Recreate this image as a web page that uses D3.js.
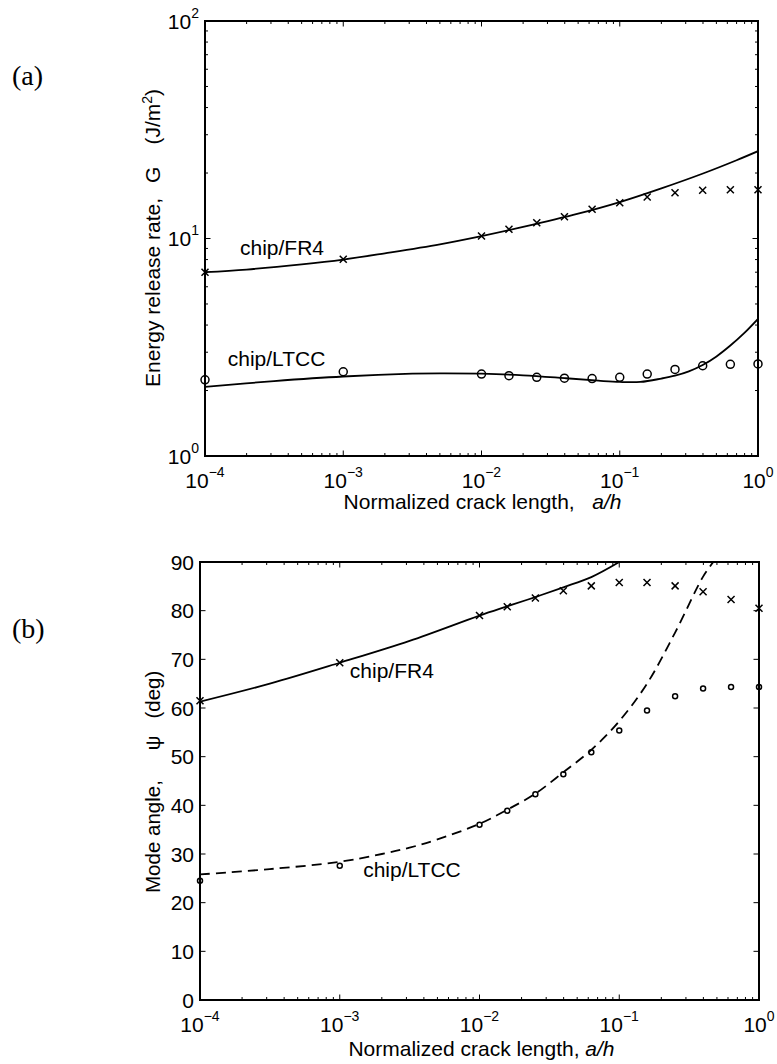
<!DOCTYPE html>
<html>
<head>
<meta charset="utf-8">
<script src="https://cdn.jsdelivr.net/npm/d3@7"></script>
<style>
  html, body { margin: 0; padding: 0; background: #fff; }
  svg { display: block; }
  text { font-family: Arial, "Liberation Sans", Helvetica, sans-serif; fill: #000; white-space: pre; }
</style>
</head>
<body>
<div id="chart"></div>
<script>
// ---------------- DATA ----------------
const xTickExponents = [-4, -3, -2, -1, 0];
const gTickExponents = [0, 1, 2];
const psiTicks = [0, 10, 20, 30, 40, 50, 60, 70, 80, 90];

// symbol (FE) points
const xSym = [1e-4, 1e-3, 0.01, 0.0158, 0.0251, 0.0398, 0.0631, 0.1, 0.158, 0.251, 0.398, 0.631, 1];
const gFR4Sym  = [7.0, 8.03, 10.27, 11.02, 11.82, 12.60, 13.62, 14.61, 15.51, 16.24, 16.66, 16.76, 16.76];
const gLTCCSym = [2.24, 2.44, 2.38, 2.34, 2.30, 2.28, 2.27, 2.30, 2.38, 2.50, 2.60, 2.64, 2.65];
const psiFR4Sym  = [61.5, 69.3, 79.0, 80.8, 82.6, 84.1, 85.1, 85.8, 85.8, 85.1, 83.9, 82.3, 80.5];
const psiLTCCSym = [24.5, 27.6, 36.0, 38.9, 42.3, 46.4, 50.9, 55.4, 59.5, 62.4, 64.0, 64.3, 64.3];

// model curves
const xLineGFR4 = [1e-4, 2e-4, 5e-4, 1e-3, 2e-3, 5e-3, 1e-2, 0.02, 0.05, 0.1, 0.2, 0.4, 0.7, 1];
const gFR4Line  = [7.0, 7.2, 7.6, 8.0, 8.55, 9.4, 10.25, 11.3, 13.0, 14.7, 17.0, 19.9, 22.9, 25.2];
const xLineGLTCC = [1e-4, 3.16e-4, 1e-3, 3.16e-3, 5e-3, 1e-2, 0.02, 0.04, 0.07, 0.1, 0.141, 0.2, 0.251, 0.316, 0.398, 0.501, 0.631, 0.794, 1];
const gLTCCLine  = [2.08, 2.21, 2.32, 2.39, 2.40, 2.39, 2.35, 2.28, 2.22, 2.19, 2.19, 2.27, 2.34, 2.45, 2.62, 2.87, 3.22, 3.67, 4.27];
const xLinePsiFR4 = [1e-4, 3.16e-4, 1e-3, 3.16e-3, 1e-2, 0.0158, 0.0251, 0.0398, 0.0631, 0.1];
const psiFR4Line  = [61.3, 65.0, 69.3, 73.8, 79.0, 80.9, 82.8, 84.8, 86.9, 90.0];
const xLinePsiLTCC = [1e-4, 3.16e-4, 1e-3, 2e-3, 3.16e-3, 5e-3, 1e-2, 0.0158, 0.0251, 0.0398, 0.0631, 0.1, 0.158, 0.251, 0.398, 0.471];
const psiLTCCLine  = [25.8, 26.9, 28.4, 30.0, 31.3, 33.0, 36.2, 39.1, 42.4, 46.8, 51.4, 57.3, 65.0, 75.5, 87.0, 90.0];

// annotation labels (data coordinates)
const labelsA = [
  { text: "chip/FR4", x: 1.79e-4, y: 8.38 },
  { text: "chip/LTCC", x: 1.46e-4, y: 2.60 }
];
const labelsB = [
  { text: "chip/FR4", x: 1.18e-3, y: 66.2 },
  { text: "chip/LTCC", x: 1.47e-3, y: 25.3 }
];

// ---------------- LAYOUT ----------------
const W = 777, H = 1064;
const FS = 21;
const svg = d3.select("#chart").append("svg").attr("width", W).attr("height", H);

const A = { left: 205, right: 758, top: 21, bottom: 456 };
const B = { left: 200, right: 759, top: 562, bottom: 1000 };

const xA = d3.scaleLog().domain([1e-4, 1]).range([A.left, A.right]);
const yA = d3.scaleLog().domain([1, 100]).range([A.bottom, A.top]);
const xB = d3.scaleLog().domain([1e-4, 1]).range([B.left, B.right]);
const yB = d3.scaleLinear().domain([0, 90]).range([B.bottom, B.top]);

function zip(xs, ys) { return xs.map((x, i) => [x, ys[i]]); }

function drawFrame(g, P) {
  g.append("rect").attr("x", P.left).attr("y", P.top)
    .attr("width", P.right - P.left).attr("height", P.bottom - P.top)
    .attr("fill", "none").attr("stroke", "#000").attr("stroke-width", 2);
}

function xTicksLog(g, x, P) {
  const minor = x.ticks();
  const major = xTickExponents.map(e => Math.pow(10, e));
  minor.forEach(v => {
    const isMajor = major.some(m => Math.abs(Math.log10(m) - Math.log10(v)) < 1e-6);
    const len = isMajor ? 5.5 : 3;
    const px = x(v);
    g.append("line").attr("x1", px).attr("x2", px).attr("y1", P.bottom).attr("y2", P.bottom - len)
      .attr("stroke", "#000").attr("stroke-width", 1);
    g.append("line").attr("x1", px).attr("x2", px).attr("y1", P.top).attr("y2", P.top + len)
      .attr("stroke", "#000").attr("stroke-width", 1);
  });
  xTickExponents.forEach(e => {
    const t = g.append("text").attr("x", x(Math.pow(10, e))).attr("y", P.bottom + 32)
      .attr("text-anchor", "middle").attr("font-size", FS);
    t.append("tspan").text("10");
    t.append("tspan").attr("dy", -11).attr("font-size", 14).text(e < 0 ? "\u2212" + Math.abs(e) : String(e));
  });
}

function yTicksLog(g, y, P) {
  const minor = y.ticks();
  const major = gTickExponents.map(e => Math.pow(10, e));
  minor.forEach(v => {
    const isMajor = major.some(m => Math.abs(Math.log10(m) - Math.log10(v)) < 1e-6);
    const len = isMajor ? 5.5 : 3;
    const py = y(v);
    g.append("line").attr("x1", P.left).attr("x2", P.left + len).attr("y1", py).attr("y2", py)
      .attr("stroke", "#000").attr("stroke-width", 1);
    g.append("line").attr("x1", P.right).attr("x2", P.right - len).attr("y1", py).attr("y2", py)
      .attr("stroke", "#000").attr("stroke-width", 1);
  });
  gTickExponents.forEach(e => {
    const t = g.append("text").attr("x", P.left - 6).attr("y", y(Math.pow(10, e)) + 7.5)
      .attr("text-anchor", "end").attr("font-size", FS);
    t.append("tspan").text("10");
    t.append("tspan").attr("dy", -11).attr("font-size", 14).text(String(e));
  });
}

function yTicksLin(g, y, P) {
  psiTicks.forEach(v => {
    const py = y(v);
    g.append("line").attr("x1", P.left).attr("x2", P.left + 5.5).attr("y1", py).attr("y2", py)
      .attr("stroke", "#000").attr("stroke-width", 1);
    g.append("line").attr("x1", P.right).attr("x2", P.right - 5.5).attr("y1", py).attr("y2", py)
      .attr("stroke", "#000").attr("stroke-width", 1);
    g.append("text").attr("x", P.left - 6).attr("y", py + 7.5)
      .attr("text-anchor", "end").attr("font-size", FS).text(String(v));
  });
}

function crosses(g, pts, x, y, s) {
  g.selectAll(null).data(pts).enter().append("path")
    .attr("d", `M${-s},${-s}L${s},${s}M${-s},${s}L${s},${-s}`)
    .attr("transform", d => `translate(${x(d[0])},${y(d[1])})`)
    .attr("stroke", "#000").attr("stroke-width", 1.5).attr("fill", "none");
}
function circles(g, pts, x, y, r) {
  g.selectAll(null).data(pts).enter().append("circle")
    .attr("cx", d => x(d[0])).attr("cy", d => y(d[1])).attr("r", r)
    .attr("stroke", "#000").attr("stroke-width", 1.5).attr("fill", "none");
}
function curve(g, pts, x, y, dash) {
  const line = d3.line().x(d => x(d[0])).y(d => y(d[1])).curve(d3.curveCatmullRom.alpha(0.5));
  const p = g.append("path").attr("d", line(pts)).attr("fill", "none")
    .attr("stroke", "#000").attr("stroke-width", 1.8);
  if (dash) p.attr("stroke-dasharray", dash);
}

// clip paths
const defs = svg.append("defs");
defs.append("clipPath").attr("id", "clipA").append("rect")
  .attr("x", A.left).attr("y", A.top).attr("width", A.right - A.left).attr("height", A.bottom - A.top);
defs.append("clipPath").attr("id", "clipB").append("rect")
  .attr("x", B.left).attr("y", B.top).attr("width", B.right - B.left).attr("height", B.bottom - B.top);

// ---------------- PLOT (a) ----------------
const gA = svg.append("g");
const gAData = gA.append("g").attr("clip-path", "url(#clipA)");
curve(gAData, zip(xLineGFR4, gFR4Line), xA, yA);
curve(gAData, zip(xLineGLTCC, gLTCCLine), xA, yA);
crosses(gA, zip(xSym, gFR4Sym), xA, yA, 3.5);
circles(gA, zip(xSym, gLTCCSym), xA, yA, 4);
drawFrame(gA, A);
xTicksLog(gA, xA, A);
yTicksLog(gA, yA, A);
labelsA.forEach(l => gA.append("text").attr("x", xA(l.x)).attr("y", yA(l.y)).attr("font-size", FS).text(l.text));

// x title
{
  const t = gA.append("text").attr("x", (A.left + A.right) / 2 + 1).attr("y", A.bottom + 53)
    .attr("text-anchor", "middle").attr("font-size", FS);
  t.append("tspan").text("Normalized crack length,   ");
  t.append("tspan").attr("font-style", "italic").text("a/h");
}
// y title
{
  const t = gA.append("text").attr("transform", `translate(160,387) rotate(-90)`)
    .attr("text-anchor", "start").attr("font-size", 21);
  t.append("tspan").text("Energy release rate,");
  t.append("tspan").attr("dx", 15).text("G");
  t.append("tspan").attr("dx", 22).text("(J/m");
  t.append("tspan").attr("dy", -8).attr("font-size", 14).text("2");
  t.append("tspan").attr("dy", 8).text(")");
}
svg.append("text").attr("x", 12).attr("y", 85).attr("font-size", 28)
  .style("font-family", "'Liberation Serif', 'Times New Roman', serif").text("(a)");

// ---------------- PLOT (b) ----------------
const gB = svg.append("g");
const gBData = gB.append("g").attr("clip-path", "url(#clipB)");
curve(gBData, zip(xLinePsiFR4, psiFR4Line), xB, yB);
curve(gBData, zip(xLinePsiLTCC, psiLTCCLine), xB, yB, "10,6");
crosses(gB, zip(xSym, psiFR4Sym), xB, yB, 3.5);
circles(gB, zip(xSym, psiLTCCSym), xB, yB, 2.5);
drawFrame(gB, B);
xTicksLog(gB, xB, B);
yTicksLin(gB, yB, B);
labelsB.forEach(l => gB.append("text").attr("x", xB(l.x)).attr("y", yB(l.y)).attr("font-size", FS).text(l.text));

{
  const t = gB.append("text").attr("x", (B.left + B.right) / 2 + 2).attr("y", B.bottom + 56)
    .attr("text-anchor", "middle").attr("font-size", FS);
  t.append("tspan").text("Normalized crack length, ");
  t.append("tspan").attr("font-style", "italic").text("a/h");
}
{
  const t = gB.append("text").attr("transform", `translate(160,893) rotate(-90)`)
    .attr("text-anchor", "start").attr("font-size", 20.5);
  t.append("tspan").text("Mode angle,");
  t.append("tspan").attr("dx", 30).text("\u03C8");
  t.append("tspan").attr("dx", 17).text("(deg)");
}
svg.append("text").attr("x", 12).attr("y", 638).attr("font-size", 28)
  .style("font-family", "'Liberation Serif', 'Times New Roman', serif").text("(b)");
</script>
</body>
</html>
